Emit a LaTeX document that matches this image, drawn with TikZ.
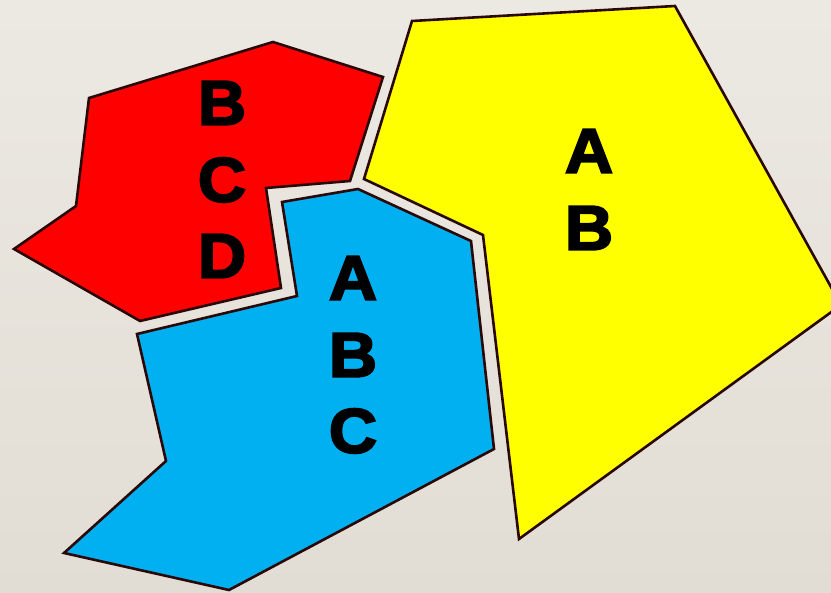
\documentclass[tikz,border=0pt]{standalone}
\usepackage{fontspec}
\newfontfamily\heavy[FakeBold=3.2,FakeStretch=1.06]{Liberation Sans Bold}
\definecolor{bgtop}{HTML}{ECE9E3}
\definecolor{bgbot}{HTML}{E2DDD4}
\definecolor{edge}{HTML}{2A0808}
\definecolor{redf}{HTML}{FF0000}
\definecolor{yelf}{HTML}{FFFF00}
\definecolor{bluef}{HTML}{00B0F0}
\tikzset{
  region/.style={draw=edge, line width=2.6pt, line join=miter},
  letter/.style={font=\heavy\fontsize{63}{63}\selectfont, inner sep=0pt, text=black}
}
\begin{document}
\begin{tikzpicture}[x=1pt,y=-1pt]
\useasboundingbox (0,0) rectangle (831,593);
\clip (0,0) rectangle (831,593);
\shade[top color=bgtop, bottom color=bgbot] (0,0) rectangle (831,593);
% red region
\filldraw[region, fill=redf] (273,42) -- (383,77) -- (350,181) -- (266,188) -- (281,288) -- (140,321) -- (14,249) -- (76,206) -- (89,98) -- cycle;
% yellow region
\filldraw[region, fill=yelf] (412,21) -- (675,6) -- (841,305) -- (519,539) -- (483,235) -- (364,179) -- cycle;
% blue region
\filldraw[region, fill=bluef] (358,189) -- (471,241) -- (494,449) -- (229,590) -- (64,553) -- (166,461) -- (137,334) -- (297,296) -- (282,202) -- cycle;
% labels
\node[letter] (rB) at (222,103) {B};
\node[letter] (rC) at (222,180) {C};
\node[letter] (rD) at (222,256) {D};
\node[letter] (bA) at (353,278) {A};
\node[letter] (bB) at (353,355) {B};
\node[letter] (bC) at (353,431) {C};
\node[letter] (yA) at (589,151) {A};
\node[letter] (yB) at (589,228) {B};
\end{tikzpicture}
\end{document}
